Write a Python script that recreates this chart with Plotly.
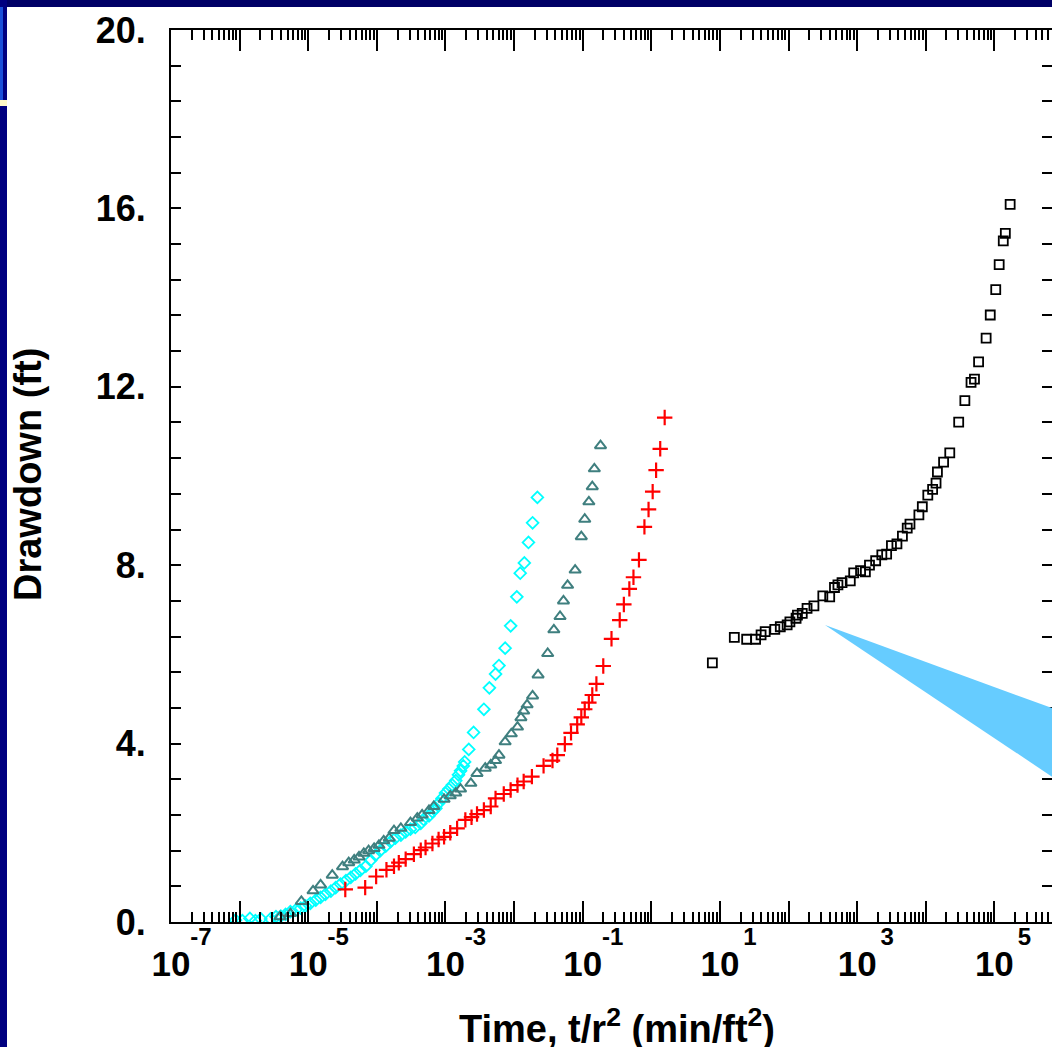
import plotly.graph_objects as go

# ---------------- data (log10 of t/r^2, drawdown ft) ----------------
cyan_log_t = [-6.06, -5.96, -5.85, -5.77, -5.69, -5.55, -5.47, -5.40, -5.33, -5.26, -5.18, -5.11,
              -5.04, -4.97, -4.89, -4.82, -4.75, -4.67, -4.60, -4.53, -4.45, -4.38, -4.31, -4.24,
              -4.16, -4.09, -4.02, -3.95, -3.87, -3.80, -3.73, -3.65, -3.58, -3.51, -3.44, -3.36,
              -3.32, -3.24, -3.19, -3.14, -3.10, -3.05, -3.00, -2.95, -2.90, -2.85, -2.81, -2.78,
              -2.74, -2.72, -2.66, -2.59, -2.44, -2.36, -2.27, -2.22, -2.13, -2.05, -1.96, -1.91,
              -1.85, -1.79, -1.73, -1.66]
cyan_s = [0.04, 0.03, 0.08, 0.03, 0.07, 0.07, 0.12, 0.13, 0.17, 0.23, 0.27, 0.31,
          0.36, 0.42, 0.49, 0.55, 0.62, 0.69, 0.77, 0.85, 0.93, 1.00, 1.08, 1.16,
          1.25, 1.38, 1.50, 1.60, 1.70, 1.80, 1.88, 1.95, 2.02, 2.08, 2.12, 2.21,
          2.30, 2.38, 2.47, 2.55, 2.66, 2.77, 2.89, 2.98, 3.07, 3.17, 3.30, 3.39,
          3.50, 3.59, 3.87, 4.25, 4.77, 5.25, 5.56, 5.75, 6.14, 6.64, 7.29, 7.82,
          8.05, 8.51, 8.95, 9.52]

teal_log_t = [-5.41, -5.26, -5.10, -4.93, -4.82, -4.65, -4.50, -4.41, -4.33, -4.26, -4.19, -4.12,
              -4.04, -3.97, -3.90, -3.82, -3.75, -3.65, -3.51, -3.41, -3.34, -3.24, -3.17, -3.02,
              -2.93, -2.85, -2.78, -2.63, -2.54, -2.42, -2.34, -2.27, -2.22, -2.13, -2.04, -1.95,
              -1.90, -1.86, -1.81, -1.73, -1.65, -1.51, -1.42, -1.33, -1.28, -1.22, -1.11, -1.02,
              -0.97, -0.91, -0.86, -0.83, -0.74]
teal_s = [0.12, 0.19, 0.46, 0.70, 0.83, 1.05, 1.24, 1.33, 1.39, 1.46, 1.54, 1.60,
          1.65, 1.72, 1.82, 1.88, 2.05, 2.10, 2.23, 2.33, 2.40, 2.50, 2.59, 2.75,
          2.83, 2.89, 2.98, 3.11, 3.33, 3.45, 3.52, 3.62, 3.74, 4.04, 4.22, 4.37,
          4.58, 4.73, 4.87, 5.07, 5.54, 6.02, 6.55, 6.85, 7.20, 7.55, 7.89, 8.64,
          9.03, 9.42, 9.76, 10.16, 10.68]

red_log_t = [-4.46, -4.17, -4.01, -3.86, -3.75, -3.68, -3.58, -3.46, -3.36, -3.29, -3.19, -3.10,
             -3.02, -2.93, -2.83, -2.71, -2.62, -2.54, -2.44, -2.34, -2.27, -2.15, -2.05, -1.95,
             -1.86, -1.74, -1.57, -1.44, -1.37, -1.26, -1.17, -1.08, -1.02, -0.97, -0.91, -0.86,
             -0.80, -0.70, -0.58, -0.46, -0.40, -0.32, -0.26, -0.18, -0.10, -0.04, 0.02, 0.07,
             0.13, 0.195]
red_s = [0.73, 0.77, 1.02, 1.17, 1.25, 1.33, 1.41, 1.52, 1.61, 1.67, 1.76, 1.85,
         1.91, 2.00, 2.10, 2.29, 2.35, 2.42, 2.51, 2.59, 2.77, 2.87, 2.96, 3.07,
         3.15, 3.26, 3.50, 3.62, 3.74, 3.99, 4.24, 4.43, 4.59, 4.77, 4.92, 5.09,
         5.34, 5.74, 6.35, 6.77, 7.12, 7.47, 7.73, 8.12, 8.86, 9.25, 9.65, 10.13,
         10.61, 11.31]

black_log_t = [0.89, 1.21, 1.39, 1.52, 1.60, 1.66, 1.80, 1.88, 1.98, 2.02, 2.11, 2.13,
               2.20, 2.27, 2.37, 2.50, 2.60, 2.67, 2.72, 2.78, 2.90, 2.95, 3.05, 3.12,
               3.18, 3.27, 3.36, 3.43, 3.50, 3.58, 3.66, 3.73, 3.77, 3.90, 3.95, 4.03,
               4.10, 4.15, 4.17, 4.26, 4.35, 4.48, 4.57, 4.66, 4.71, 4.77, 4.88, 4.94,
               5.02, 5.07, 5.13, 5.16, 5.23]
black_s = [5.81, 6.38, 6.34, 6.34, 6.44, 6.51, 6.56, 6.62, 6.66, 6.73, 6.81, 6.88,
           6.92, 7.03, 7.09, 7.31, 7.29, 7.50, 7.56, 7.61, 7.65, 7.83, 7.88, 7.85,
           8.00, 8.10, 8.23, 8.25, 8.44, 8.48, 8.65, 8.83, 8.92, 9.13, 9.31, 9.57,
           9.70, 9.84, 10.09, 10.31, 10.52, 11.21, 11.69, 12.10, 12.17, 12.56, 13.09, 13.61,
           14.18, 14.74, 15.27, 15.44, 16.09]

decades = list(range(-7, 7))
y_ticks = [round(0.8 * i, 1) for i in range(26)]
y_labels = {0: "0.", 4: "4.", 8: "8.", 12: "12.", 16: "16.", 20: "20."}

# ---------------- geometry (pixels) ----------------
W, H = 1052, 1047
L, R, T, B = 171, 1052, 30, 922
XMIN, XMAX = -7.0, 5.84


def px(x):
    return (x - L) / (R - L)


def py(y):
    return (B - y) / (B - T)


def tv(e):
    return 10.0 ** e


FONT = "Liberation Sans, Arial, Helvetica, sans-serif"
NB = "\u00a0"

fig = go.Figure()

fig.add_trace(go.Scatter(
    x=[tv(e) for e in cyan_log_t], y=cyan_s, mode="markers",
    marker=dict(symbol="diamond-open", size=9, color="#00FFFF",
                line=dict(color="#00FFFF", width=1.8)),
    showlegend=False, hoverinfo="x+y"))
fig.add_trace(go.Scatter(
    x=[tv(e) for e in teal_log_t], y=teal_s, mode="markers",
    marker=dict(symbol="triangle-up-open", size=10, color="#3F7F7F",
                line=dict(color="#3F7F7F", width=2)),
    showlegend=False, hoverinfo="x+y"))
fig.add_trace(go.Scatter(
    x=[tv(e) for e in red_log_t], y=red_s, mode="markers",
    marker=dict(symbol="cross-thin-open", size=11, color="#FF0000",
                line=dict(color="#FF0000", width=2.2)),
    showlegend=False, hoverinfo="x+y"))
fig.add_trace(go.Scatter(
    x=[tv(e) for e in black_log_t], y=black_s, mode="markers",
    marker=dict(symbol="square-open", size=9, color="#000000",
                line=dict(color="#000000", width=1.8)),
    showlegend=False, hoverinfo="x+y"))
# empty trace to host the mirrored (top/right) axes
fig.add_trace(go.Scatter(x=[None], y=[None], xaxis="x2", yaxis="y2",
                         showlegend=False, hoverinfo="skip"))

major_vals = [tv(d) for d in decades]
major_text = [(NB * 9 + "%d<br><span style='font-size:35px'>10</span>" % d) if d % 2 else ""
              for d in decades]
minor_vals = [m * tv(d) for d in range(-8, 7) for m in range(2, 10)]

common_x = dict(type="log", range=[XMIN, XMAX], showgrid=False, zeroline=False,
                showline=True, linecolor="black", linewidth=2,
                ticks="inside", ticklen=21, tickwidth=2, tickcolor="black",
                tickmode="array", tickvals=major_vals,
                minor=dict(tickmode="array", tickvals=minor_vals, ticks="inside",
                           ticklen=10, tickwidth=1.6, tickcolor="black", showgrid=False))

fig.update_layout(
    width=W, height=H,
    margin=dict(l=L, r=W - R, t=T, b=H - B, pad=0),
    paper_bgcolor="white", plot_bgcolor="white",
    font=dict(family=FONT, color="black"),
    xaxis=dict(**common_x, ticktext=major_text, ticklabelstandoff=-8,
               tickfont=dict(family=FONT, size=24, color="black", weight=700)),
    xaxis2=dict(**common_x, overlaying="x", side="top", showticklabels=False),
    yaxis=dict(range=[0, 20], showgrid=False, zeroline=False,
               showline=True, linecolor="black", linewidth=2,
               ticks="inside", ticklen=10, tickwidth=2, tickcolor="black",
               tickmode="array", tickvals=y_ticks,
               ticktext=[y_labels.get(int(v), "") if abs(v - round(v)) < 1e-9 else "" for v in y_ticks],
               ticklabelstandoff=16,
               tickfont=dict(family=FONT, size=36, color="black", weight=700)),
    yaxis2=dict(range=[0, 20], overlaying="y", side="right", showgrid=False, zeroline=False,
                showline=False, ticks="inside", ticklen=10, tickwidth=2, tickcolor="black",
                tickmode="array", tickvals=y_ticks, showticklabels=False),
    annotations=[
        dict(text="Time, t/r<sup>2</sup> (min/ft<sup>2</sup>)", xref="paper", yref="paper",
             x=px(617), y=py(1026), xanchor="center", yanchor="middle", showarrow=False,
             font=dict(family=FONT, size=38, color="black", weight=700)),
        dict(text="Drawdown (ft)", xref="paper", yref="paper", textangle=-90,
             x=px(28), y=py(475), xanchor="center", yanchor="middle", showarrow=False,
             font=dict(family=FONT, size=38, color="black", weight=700)),
    ],
    shapes=[
        # slide frame strips
        dict(type="rect", xref="paper", yref="paper", x0=px(0), x1=px(W + 5), y0=py(0), y1=py(7),
             fillcolor="#000066", line=dict(width=0), layer="above"),
        dict(type="rect", xref="paper", yref="paper", x0=px(0), x1=px(7), y0=py(0), y1=py(H + 5),
             fillcolor="#000080", line=dict(width=0), layer="above"),
        dict(type="rect", xref="paper", yref="paper", x0=px(0), x1=px(3), y0=py(7), y1=py(100),
             fillcolor="#1a4fd8", line=dict(width=0), layer="above"),
        dict(type="rect", xref="paper", yref="paper", x0=px(0), x1=px(7), y0=py(100), y1=py(106),
             fillcolor="#fff8c8", line=dict(width=0), layer="above"),
        # blue callout wedge
        dict(type="path", xref="paper", yref="paper",
             path="M %f,%f L %f,%f L %f,%f Z" % (px(825), py(625), px(1060), py(711), px(1060), py(782)),
             fillcolor="#66CCFF", line=dict(width=0), layer="above"),
    ],
)

fig.write_html("out.html")
